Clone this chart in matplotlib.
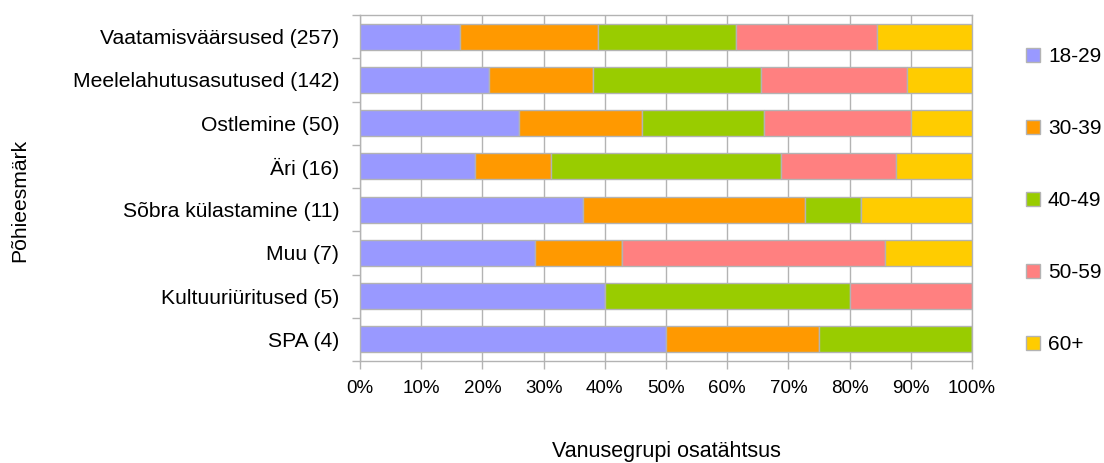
import matplotlib
matplotlib.use("Agg")
import matplotlib.pyplot as plt
import numpy as np
from matplotlib.patches import Patch

plt.rcParams['font.family'] = ['Liberation Sans', 'DejaVu Sans']

categories = ["Vaatamisväärsused (257)", "Meelelahutusasutused (142)", "Ostlemine (50)",
              "Äri (16)", "Sõbra külastamine (11)", "Muu (7)", "Kultuuriüritused (5)", "SPA (4)"]
groups = ["18-29", "30-39", "40-49", "50-59", "60+"]
# counts per age group for each category (read as shares of each bar)
c_18_29 = [42, 30, 13, 3, 4, 2, 2, 2]
c_30_39 = [58, 24, 10, 2, 4, 1, 0, 1]
c_40_49 = [58, 39, 10, 6, 1, 0, 2, 1]
c_50_59 = [59, 34, 12, 3, 0, 3, 1, 0]
c_60p = [40, 15, 5, 2, 2, 1, 0, 0]
colors = ["#9999ff", "#ff9900", "#99cc00", "#ff8080", "#ffcc00"]
xticks = [0, 10, 20, 30, 40, 50, 60, 70, 80, 90, 100]

data = np.array([c_18_29, c_30_39, c_40_49, c_50_59, c_60p], dtype=float)
pct = data / data.sum(axis=0) * 100

fig = plt.figure(figsize=(11.04, 4.63), dpi=100)
ax = fig.add_axes([360/1104, 1-361/463, 612/1104, 346/463])

y = np.arange(len(categories))
left = np.zeros(len(categories))
for i, g in enumerate(groups):
    ax.barh(y, pct[i], left=left, height=0.6, color=colors[i], edgecolor="#b3b3b3",
            linewidth=1.0, zorder=3, label=g)
    left += pct[i]

ax.set_xlim(0, 100)
ax.set_ylim(len(categories) - 0.5, -0.5)
ax.set_xticks(xticks)
ax.set_xticklabels([f"{t}%" for t in xticks], fontsize=13.5)
ax.set_yticks(y)
ax.set_yticklabels(categories, fontsize=15.2)
ax.set_yticks(np.arange(len(categories) + 1) - 0.5, minor=True)
ax.tick_params(axis='y', which='major', length=0, pad=15)
ax.tick_params(axis='y', which='minor', length=6, color="#b3b3b3", width=1)
ax.tick_params(axis='x', length=6, color="#b3b3b3", width=1, pad=8)
ax.grid(axis='x', color="#b3b3b3", linewidth=1, zorder=0)
for s in ax.spines.values():
    s.set_color("#b3b3b3")
    s.set_linewidth(1)

fig.text(666/1104, 1-452/463, "Vanusegrupi osatähtsus", fontsize=15.5, ha='center', va='center')
fig.text(20/1104, 1-200/463, "Põhieesmärk", rotation=90, fontsize=15.2,
         ha='center', va='center')

handles = [Patch(facecolor=c, edgecolor="#b3b3b3", label=g) for c, g in zip(colors, groups)]
fig.legend(handles=handles, loc='upper left', bbox_to_anchor=(1026/1104, 1-47/463),
           frameon=False, fontsize=15, labelspacing=2.55, handlelength=0.65,
           handleheight=0.65, handletextpad=0.4, borderaxespad=0, borderpad=0)

fig.savefig("out.png", dpi=100)
